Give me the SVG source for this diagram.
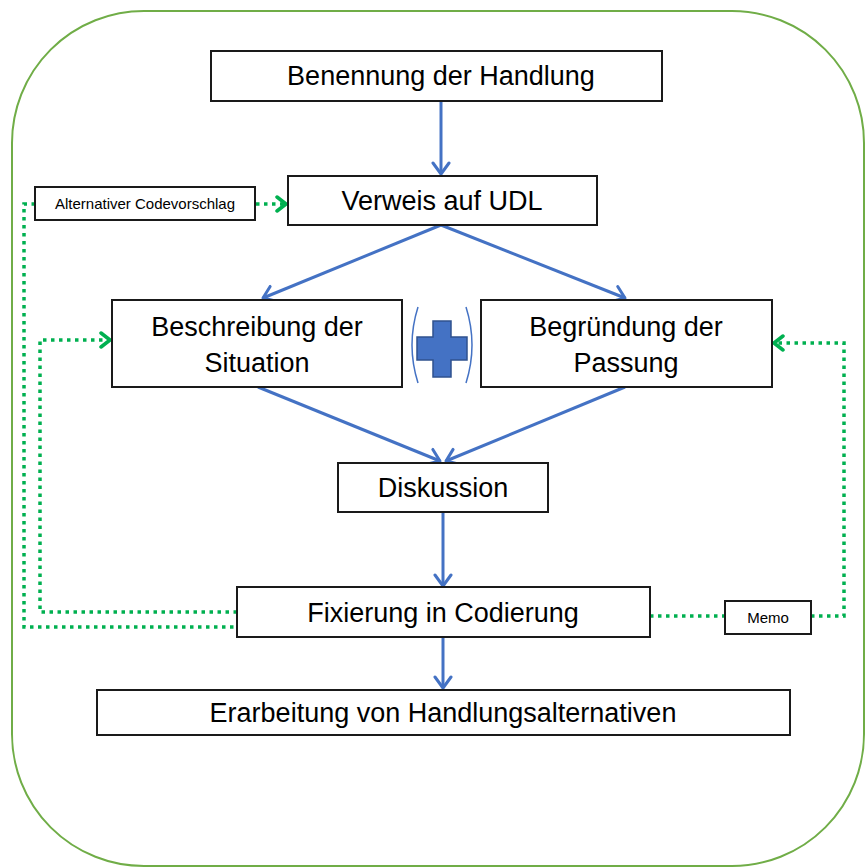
<svg xmlns="http://www.w3.org/2000/svg" width="865" height="868" viewBox="0 0 865 868">
<defs>
<style>
.box{fill:#fff;stroke:#1a1a1a;stroke-width:2}
.t{font-family:"Liberation Sans",Arial,sans-serif;font-size:27px;fill:#000;text-anchor:middle}
.s{font-family:"Liberation Sans",Arial,sans-serif;font-size:15px;fill:#000;text-anchor:middle}
.blue{fill:none;stroke:#4472C4;stroke-width:3;marker-end:url(#ab)}
.green{fill:none;stroke:#00B050;stroke-width:3.5;stroke-dasharray:3.5 4.5}
.greena{marker-end:url(#ag)}
</style>
<marker id="ab" markerUnits="userSpaceOnUse" viewBox="-14 -10 16 20" refX="0" refY="0" markerWidth="16" markerHeight="20" orient="auto">
<path d="M-11,-8 L0,0 L-11,8" fill="none" stroke="#4472C4" stroke-width="3" stroke-linejoin="round" stroke-linecap="round"/>
</marker>
<marker id="ag" markerUnits="userSpaceOnUse" viewBox="-14 -10 16 20" refX="0" refY="0" markerWidth="16" markerHeight="20" orient="auto">
<path d="M-9,-7 L0,0 L-9,7" fill="none" stroke="#00B050" stroke-width="3.5" stroke-linejoin="round" stroke-linecap="round"/>
</marker>
</defs>
<rect x="0" y="0" width="865" height="868" fill="#fff"/>
<rect id="frame" x="12" y="11" width="852" height="855" rx="132" ry="132" fill="none" stroke="#70AD47" stroke-width="2"/>

<g id="connectors">
<line class="blue" x1="441" y1="101" x2="441" y2="174"/>
<line class="blue" x1="441" y1="225" x2="263" y2="298"/>
<line class="blue" x1="441" y1="225" x2="625" y2="298"/>
<line class="blue" x1="258" y1="387" x2="440" y2="461"/>
<line class="blue" x1="625" y1="387" x2="446" y2="461"/>
<line class="blue" x1="443" y1="512" x2="443" y2="586"/>
<line class="blue" x1="443" y1="637" x2="443" y2="688"/>
<path class="green greena" d="M256,204 H286"/>
<path class="green" d="M35,204 H24 V627 H237"/>
<path class="green greena" d="M237,612 H40 V340 H110"/>
<path class="green" d="M650,616 H725"/>
<path class="green greena" d="M811,616 H844 V343 H774"/>
</g>

<g id="n-benennung">
<rect class="box" x="211" y="51" width="451" height="50"/>
<text class="t" x="441" y="85">Benennung der Handlung</text>
</g>
<g id="n-verweis">
<rect class="box" x="288" y="176" width="309" height="49"/>
<text class="t" x="442" y="210">Verweis auf UDL</text>
</g>
<g id="n-alternativ">
<rect class="box" x="35" y="187" width="220" height="33"/>
<text class="s" x="145" y="209">Alternativer Codevorschlag</text>
</g>
<g id="n-beschreibung">
<rect class="box" x="112" y="300" width="290" height="87"/>
<text class="t" x="257" y="336">Beschreibung der</text>
<text class="t" x="257" y="372">Situation</text>
</g>
<g id="n-plus">
<path d="M418,307 Q406,345 418,383" fill="none" stroke="#4472C4" stroke-width="1.5"/>
<path d="M466,307 Q478,345 466,383" fill="none" stroke="#4472C4" stroke-width="1.5"/>
<path d="M433,321 H451 V337 H467 V360 H451 V377 H433 V360 H417 V337 H433 Z" fill="#4472C4" stroke="#2F528F" stroke-width="1.5"/>
</g>
<g id="n-begruendung">
<rect class="box" x="481" y="300" width="291" height="87"/>
<text class="t" x="626" y="336">Begründung der</text>
<text class="t" x="626" y="372">Passung</text>
</g>
<g id="n-diskussion">
<rect class="box" x="338" y="463" width="210" height="49"/>
<text class="t" x="443" y="497">Diskussion</text>
</g>
<g id="n-fixierung">
<rect class="box" x="237" y="587" width="413" height="50"/>
<text class="t" x="443" y="622">Fixierung in Codierung</text>
</g>
<g id="n-memo">
<rect class="box" x="725" y="601" width="86" height="33"/>
<text class="s" x="768" y="623">Memo</text>
</g>
<g id="n-erarbeitung">
<rect class="box" x="97" y="690" width="693" height="45"/>
<text class="t" x="443" y="722">Erarbeitung von Handlungsalternativen</text>
</g>
</svg>
